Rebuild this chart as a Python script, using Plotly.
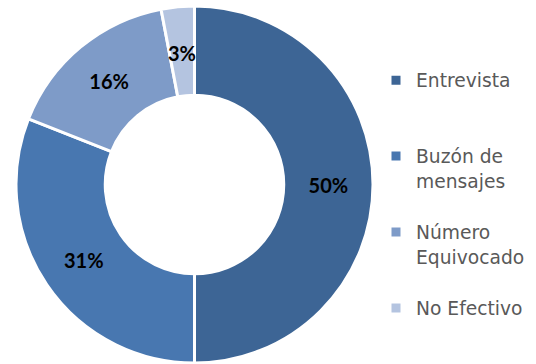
import math
import plotly.graph_objects as go

labels = ["Entrevista", "Buzón de<br>mensajes", "Número<br>Equivocado", "No Efectivo"]
legend_pad = ["<br> <br> ", "<br> ", "<br> ", ""]
values = [50, 31, 16, 3]
colors = ["#3D6595", "#4877B0", "#7E9BC8", "#B4C4E0"]

W, H = 536, 364
cx_px, cy_px, r_px = 194.5, 184.5, 178.5
hole = 0.5

total = sum(values)
pct_text = [f"{v / total:.0%}" for v in values]
textpos = ["inside", "inside", "inside", "none"]

label_font = dict(family="Lato", size=20, color="black", weight="bold")

fig = go.Figure(go.Pie(
    labels=[l + p for l, p in zip(labels, legend_pad)],
    values=values,
    hole=hole,
    sort=False,
    direction="clockwise",
    rotation=0,
    marker=dict(colors=colors, line=dict(color="white", width=3)),
    text=pct_text,
    texttemplate="%{text}",
    textposition=textpos,
    insidetextorientation="horizontal",
    textfont=label_font,
    domain=dict(x=[(cx_px - r_px) / W, (cx_px + r_px) / W],
                y=[(H - cy_px - r_px) / H, (H - cy_px + r_px) / H]),
    showlegend=True,
))

# label of the thin last slice placed at the ring's mid radius
cum = sum(values[:-1]) + values[-1] / 2
theta = 2 * math.pi * cum / total
rm = r_px * (1 + hole) / 2 * 0.99
ax = (cx_px + rm * math.sin(theta)) / W
ay = (H - cy_px + rm * math.cos(theta)) / H
fig.add_annotation(
    x=ax, y=ay, xref="paper", yref="paper",
    xanchor="center", yanchor="middle",
    text=pct_text[-1], showarrow=False,
    font=label_font,
)

fig.update_layout(
    width=W, height=H,
    margin=dict(l=0, r=0, t=0, b=0),
    paper_bgcolor="white",
    plot_bgcolor="white",
    uniformtext=dict(minsize=20, mode="show"),
    legend=dict(
        x=376 / W, xanchor="left",
        y=0.831, yanchor="top",
        bgcolor="rgba(0,0,0,0)",
        font=dict(family="DejaVu Sans", size=18.7, color="#595959"),
        valign="top",
        itemwidth=30,
        traceorder="normal",
    ),
)

fig.write_html("out.html")
